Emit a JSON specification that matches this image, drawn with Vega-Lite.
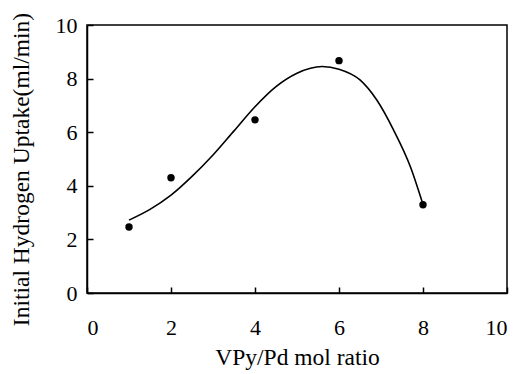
{
  "$schema": "https://vega.github.io/schema/vega-lite/v6.json",
  "width": 420,
  "height": 268,
  "autosize": "none",
  "padding": {"left": 87, "top": 25, "right": 12, "bottom": 81},
  "background": "white",
  "config": {
    "view": {"stroke": "black", "strokeWidth": 1.5}
  },
  "datasets": {
    "pts": [
      {"ratio": 1, "uptake": 2.46},
      {"ratio": 2, "uptake": 4.3},
      {"ratio": 4, "uptake": 6.46},
      {"ratio": 6, "uptake": 8.67},
      {"ratio": 8, "uptake": 3.29}
    ],
    "curve": [
      {"ratio": 1.0, "uptake": 2.72},
      {"ratio": 1.5, "uptake": 3.12},
      {"ratio": 2.0, "uptake": 3.65},
      {"ratio": 2.5, "uptake": 4.35},
      {"ratio": 3.0, "uptake": 5.15},
      {"ratio": 3.5, "uptake": 6.05},
      {"ratio": 4.0, "uptake": 6.95},
      {"ratio": 4.5, "uptake": 7.7},
      {"ratio": 5.0, "uptake": 8.2},
      {"ratio": 5.6, "uptake": 8.45},
      {"ratio": 6.0, "uptake": 8.35},
      {"ratio": 6.5, "uptake": 7.95},
      {"ratio": 6.9, "uptake": 7.2},
      {"ratio": 7.3, "uptake": 6.08},
      {"ratio": 7.7, "uptake": 4.71},
      {"ratio": 8.0, "uptake": 3.3}
    ]
  },
  "layer": [
    {
      "data": {"name": "curve"},
      "mark": {"type": "line", "interpolate": "monotone", "color": "black", "strokeWidth": 1.6},
      "encoding": {
        "x": {"field": "ratio", "type": "quantitative", "scale": {"domain": [0, 10]},
              "axis": {"values": [0, 2, 4, 6, 8, 10], "title": "VPy/Pd mol ratio", "grid": false,
                       "domainColor": "black", "domainWidth": 1.5, "tickColor": "black", "tickWidth": 1.5, "tickSize": -6,
                       "labelFont": "Liberation Serif", "labelFontSize": 22, "labelColor": "black",
                       "labelBaseline": "alphabetic", "labelPadding": 47,
                       "titleFont": "Liberation Serif", "titleFontSize": 23.5, "titleFontWeight": "normal", "titleColor": "black",
                       "titleBaseline": "alphabetic", "titleY": 71}},
        "y": {"field": "uptake", "type": "quantitative", "scale": {"domain": [0, 10]},
              "axis": {"values": [0, 2, 4, 6, 8, 10], "title": "Initial Hydrogen Uptake(ml/min)", "grid": false,
                       "domainColor": "black", "domainWidth": 1.5, "tickColor": "black", "tickWidth": 1.5, "tickSize": -6,
                       "labelFont": "Liberation Serif", "labelFontSize": 22, "labelColor": "black",
                       "labelPadding": 16,
                       "titleFont": "Liberation Serif", "titleFontSize": 23.5, "titleFontWeight": "normal", "titleColor": "black",
                       "titleBaseline": "alphabetic", "titleX": -59, "titleY": 144}}
      }
    },
    {
      "data": {"name": "pts"},
      "mark": {"type": "point", "filled": true, "color": "black", "opacity": 1, "size": 55},
      "encoding": {
        "x": {"field": "ratio", "type": "quantitative"},
        "y": {"field": "uptake", "type": "quantitative"}
      }
    }
  ]
}
